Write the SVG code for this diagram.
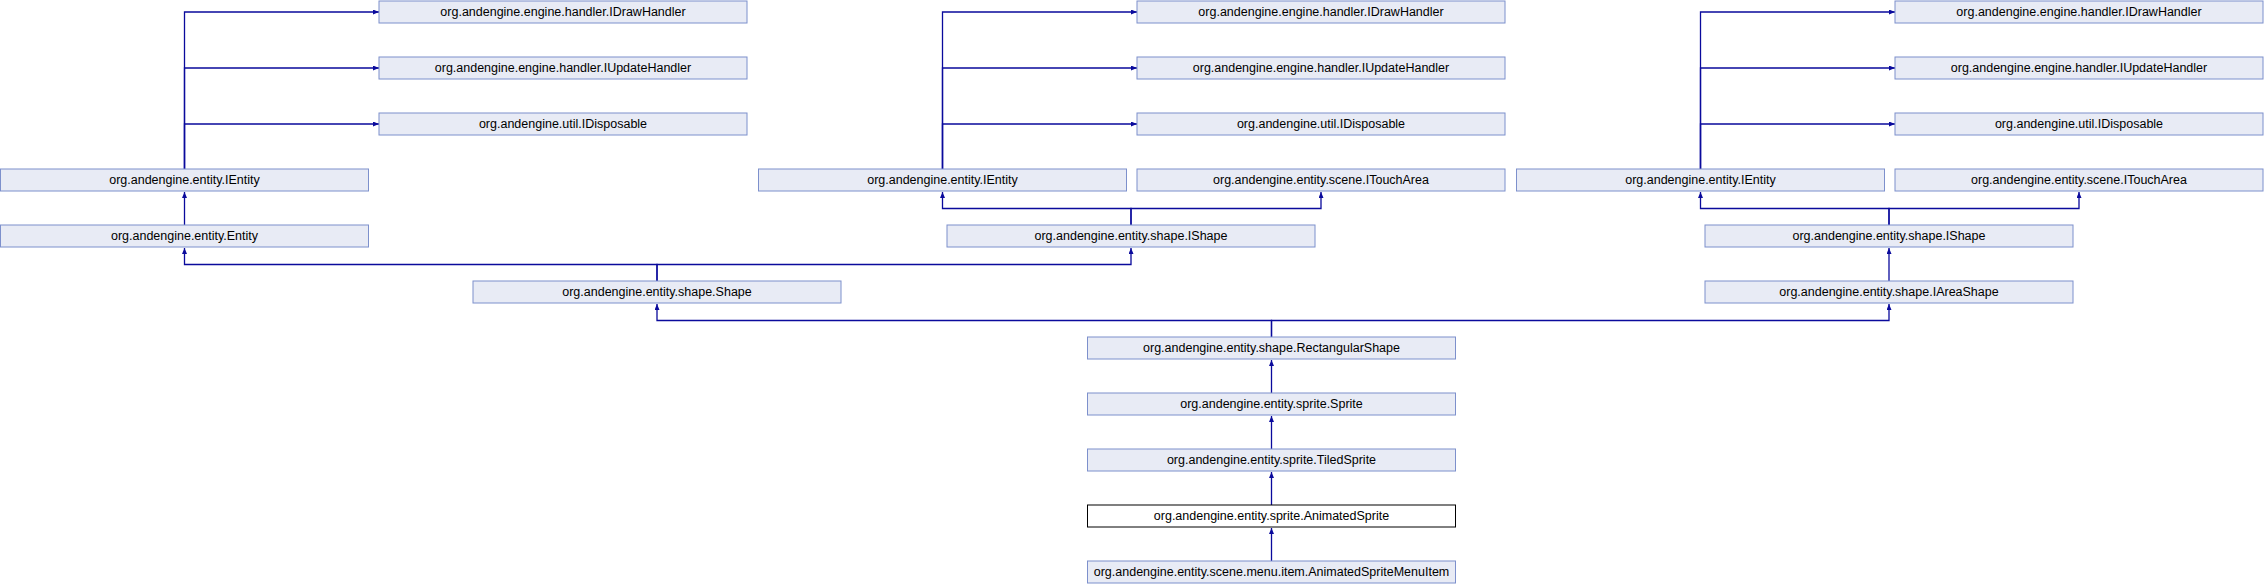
<svg xmlns="http://www.w3.org/2000/svg" width="2264" height="584" viewBox="0 0 2264 584">
<style>
.n rect{fill:#E8EBF5;stroke:#7D90CC;stroke-width:1}
.n.cur rect{fill:#FFFFFF;stroke:#000000}
.n text{font-family:"Liberation Sans",Arial,sans-serif;font-size:12.5px;fill:#000;text-anchor:middle}
.e path{fill:none;stroke:#0A0A9C;stroke-width:1.3;marker-end:url(#ah)}
</style>
<defs>
<marker id="ah" viewBox="0 0 6 5" refX="6" refY="2.5" markerWidth="6" markerHeight="5" markerUnits="userSpaceOnUse" orient="auto">
<path d="M0,0 L6,2.5 L0,5 z" fill="#0A0A9C"/>
</marker>
</defs>
<rect width="2264" height="584" fill="#FFFFFF"/>
<g id="connectors" class="e">
<path d="M184.5,169 V12 H379"/>
<path d="M184.5,169 V68 H379"/>
<path d="M184.5,169 V124 H379"/>
<path d="M184.5,225 V192"/>
<path d="M657,281 V264.5 H184.5 V248"/>
<path d="M657,281 V264.5 H1131 V248"/>
<path d="M1131,225 V208.5 H942.5 V192"/>
<path d="M1131,225 V208.5 H1321 V192"/>
<path d="M942.5,169 V12 H1137"/>
<path d="M942.5,169 V68 H1137"/>
<path d="M942.5,169 V124 H1137"/>
<path d="M1700.5,169 V12 H1895"/>
<path d="M1700.5,169 V68 H1895"/>
<path d="M1700.5,169 V124 H1895"/>
<path d="M1889,225 V208.5 H1700.5 V192"/>
<path d="M1889,225 V208.5 H2079 V192"/>
<path d="M1889,281 V248"/>
<path d="M1271.5,337 V320.5 H657 V304"/>
<path d="M1271.5,337 V320.5 H1889 V304"/>
<path d="M1271.5,393 V360"/>
<path d="M1271.5,449 V416"/>
<path d="M1271.5,505 V472"/>
<path d="M1271.5,561 V528"/>
</g>
<g id="n_idraw_l" class="n"><rect x="379" y="1" width="368" height="22"/><text x="563" y="16">org.andengine.engine.handler.IDrawHandler</text></g>
<g id="n_iupdate_l" class="n"><rect x="379" y="57" width="368" height="22"/><text x="563" y="72">org.andengine.engine.handler.IUpdateHandler</text></g>
<g id="n_idisp_l" class="n"><rect x="379" y="113" width="368" height="22"/><text x="563" y="128">org.andengine.util.IDisposable</text></g>
<g id="n_ientity_l" class="n"><rect x="0.5" y="169" width="368" height="22"/><text x="184.5" y="184">org.andengine.entity.IEntity</text></g>
<g id="n_entity" class="n"><rect x="0.5" y="225" width="368" height="22"/><text x="184.5" y="240">org.andengine.entity.Entity</text></g>
<g id="n_shape" class="n"><rect x="473" y="281" width="368" height="22"/><text x="657" y="296">org.andengine.entity.shape.Shape</text></g>
<g id="n_idraw_m" class="n"><rect x="1137" y="1" width="368" height="22"/><text x="1321" y="16">org.andengine.engine.handler.IDrawHandler</text></g>
<g id="n_iupdate_m" class="n"><rect x="1137" y="57" width="368" height="22"/><text x="1321" y="72">org.andengine.engine.handler.IUpdateHandler</text></g>
<g id="n_idisp_m" class="n"><rect x="1137" y="113" width="368" height="22"/><text x="1321" y="128">org.andengine.util.IDisposable</text></g>
<g id="n_ientity_m" class="n"><rect x="758.5" y="169" width="368" height="22"/><text x="942.5" y="184">org.andengine.entity.IEntity</text></g>
<g id="n_itouch_m" class="n"><rect x="1137" y="169" width="368" height="22"/><text x="1321" y="184">org.andengine.entity.scene.ITouchArea</text></g>
<g id="n_ishape_m" class="n"><rect x="947" y="225" width="368" height="22"/><text x="1131" y="240">org.andengine.entity.shape.IShape</text></g>
<g id="n_idraw_r" class="n"><rect x="1895" y="1" width="368" height="22"/><text x="2079" y="16">org.andengine.engine.handler.IDrawHandler</text></g>
<g id="n_iupdate_r" class="n"><rect x="1895" y="57" width="368" height="22"/><text x="2079" y="72">org.andengine.engine.handler.IUpdateHandler</text></g>
<g id="n_idisp_r" class="n"><rect x="1895" y="113" width="368" height="22"/><text x="2079" y="128">org.andengine.util.IDisposable</text></g>
<g id="n_ientity_r" class="n"><rect x="1516.5" y="169" width="368" height="22"/><text x="1700.5" y="184">org.andengine.entity.IEntity</text></g>
<g id="n_itouch_r" class="n"><rect x="1895" y="169" width="368" height="22"/><text x="2079" y="184">org.andengine.entity.scene.ITouchArea</text></g>
<g id="n_ishape_r" class="n"><rect x="1705" y="225" width="368" height="22"/><text x="1889" y="240">org.andengine.entity.shape.IShape</text></g>
<g id="n_iareashape" class="n"><rect x="1705" y="281" width="368" height="22"/><text x="1889" y="296">org.andengine.entity.shape.IAreaShape</text></g>
<g id="n_rectshape" class="n"><rect x="1087.5" y="337" width="368" height="22"/><text x="1271.5" y="352">org.andengine.entity.shape.RectangularShape</text></g>
<g id="n_sprite" class="n"><rect x="1087.5" y="393" width="368" height="22"/><text x="1271.5" y="408">org.andengine.entity.sprite.Sprite</text></g>
<g id="n_tiled" class="n"><rect x="1087.5" y="449" width="368" height="22"/><text x="1271.5" y="464">org.andengine.entity.sprite.TiledSprite</text></g>
<g id="n_animated" class="n cur"><rect x="1087.5" y="505" width="368" height="22"/><text x="1271.5" y="520">org.andengine.entity.sprite.AnimatedSprite</text></g>
<g id="n_menuitem" class="n"><rect x="1087.5" y="561" width="368" height="22"/><text x="1271.5" y="576">org.andengine.entity.scene.menu.item.AnimatedSpriteMenuItem</text></g>
</svg>
